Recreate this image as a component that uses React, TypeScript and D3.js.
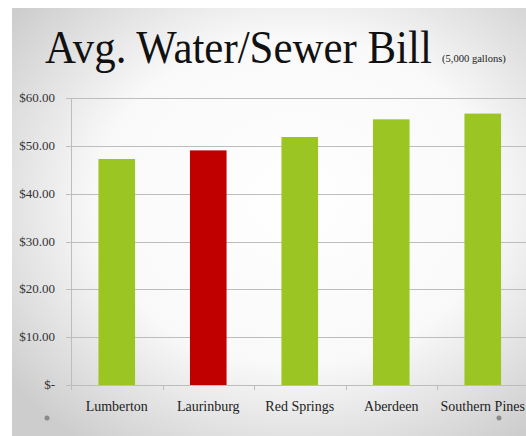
import React, { useEffect, useRef } from 'react';
import * as d3 from 'd3';

const cities = ['Lumberton', 'Laurinburg', 'Red Springs', 'Aberdeen', 'Southern Pines'];
const bills = [47.3, 49.1, 51.9, 55.6, 56.8];
const highlighted = ['Laurinburg'];
const yTicks = [0, 10, 20, 30, 40, 50, 60];

const W = 526;
const H = 436;

const App: React.FC = () => {
    const ref = useRef<SVGSVGElement>(null);

    useEffect(() => {
        if (!ref.current) return;
        const svg = d3.select(ref.current);
        svg.selectAll('*').remove();

        // slide background
        const defs = svg.append('defs');
        const grad = defs.append('radialGradient')
            .attr('id', 'bg')
            .attr('cx', '0.55').attr('cy', '0.45').attr('r', '0.7');
        grad.append('stop').attr('offset', '0%').attr('stop-color', '#ffffff');
        grad.append('stop').attr('offset', '55%').attr('stop-color', '#f9f9f9');
        grad.append('stop').attr('offset', '100%').attr('stop-color', '#cdcdcd');

        svg.append('rect').attr('width', W).attr('height', H).attr('fill', '#fff');
        svg.append('rect')
            .attr('x', 12).attr('y', 8)
            .attr('width', W - 12).attr('height', H - 8)
            .attr('fill', 'url(#bg)');

        const serif = "'Liberation Serif', 'DejaVu Serif', serif";

        // title, squeezed horizontally to the reference width
        const fitText = (txt: string, x0: number, y0: number, size: number, width: number, color: string) => {
            const g = svg.append('g');
            const t = g.append('text')
                .style('font-family', serif)
                .style('font-size', `${size}px`)
                .attr('fill', color)
                .text(txt);
            const natural = (t.node() as SVGTextElement).getComputedTextLength() || width;
            g.attr('transform', `translate(${x0},${y0}) scale(${width / natural},1)`);
        };
        fitText('Avg. Water/Sewer Bill', 45, 63, 47, 387, '#111');
        fitText('(5,000 gallons)', 442, 62, 10, 64, '#222');

        const left = 71;
        const right = 528.5;
        const top = 98.3;
        const bottom = 385;

        const x = d3.scaleBand<string>()
            .domain(cities)
            .range([left, right])
            .paddingInner(0)
            .paddingOuter(0);
        const y = d3.scaleLinear().domain([0, 60]).range([bottom, top]);

        // gridlines
        svg.append('g')
            .selectAll('line')
            .data(yTicks)
            .enter().append('line')
            .attr('x1', left - 5).attr('x2', W)
            .attr('y1', d => Math.round(y(d)) + 0.5)
            .attr('y2', d => Math.round(y(d)) + 0.5)
            .attr('stroke', '#bdbdbd')
            .attr('stroke-width', 1);

        svg.append('line')
            .attr('x1', left + 0.5).attr('x2', left + 0.5)
            .attr('y1', top).attr('y2', bottom + 5)
            .attr('stroke', '#bdbdbd');

        svg.append('g')
            .selectAll('line')
            .data(cities.slice(1))
            .enter().append('line')
            .attr('x1', d => Math.round(x(d)!) + 0.5)
            .attr('x2', d => Math.round(x(d)!) + 0.5)
            .attr('y1', bottom).attr('y2', bottom + 5)
            .attr('stroke', '#bdbdbd');

        // y labels
        svg.append('g')
            .selectAll('text')
            .data(yTicks)
            .enter().append('text')
            .attr('x', 55)
            .attr('y', d => y(d) + 4)
            .attr('text-anchor', 'end')
            .style('font-family', serif)
            .style('font-size', '13px')
            .attr('fill', '#333')
            .text(d => d === 0 ? '$-' : d3.format('$.2f')(d));

        // bars
        const barW = x.bandwidth() * 0.4;
        svg.append('g')
            .selectAll('rect')
            .data(cities)
            .enter().append('rect')
            .attr('x', d => x(d)! + (x.bandwidth() - barW) / 2)
            .attr('width', barW)
            .attr('y', (d, i) => y(bills[i]))
            .attr('height', (d, i) => bottom - y(bills[i]))
            .attr('fill', d => highlighted.includes(d) ? '#c00000' : '#9bc523');

        // category labels
        svg.append('g')
            .selectAll('text')
            .data(cities)
            .enter().append('text')
            .attr('x', d => x(d)! + x.bandwidth() / 2)
            .attr('y', 411)
            .attr('text-anchor', 'middle')
            .style('font-family', serif)
            .style('font-size', '14px')
            .attr('fill', '#222')
            .text(d => d);

        // slide bullet dots
        svg.append('g')
            .selectAll('circle')
            .data([47, 499])
            .enter().append('circle')
            .attr('cx', d => d).attr('cy', 418)
            .attr('r', 2.5)
            .attr('fill', '#8a8a8a');
    }, []);

    return (
        <svg ref={ref} width={W} height={H} style={{ position: 'absolute', left: 0, top: 0 }}></svg>
    );
};

export default App;
